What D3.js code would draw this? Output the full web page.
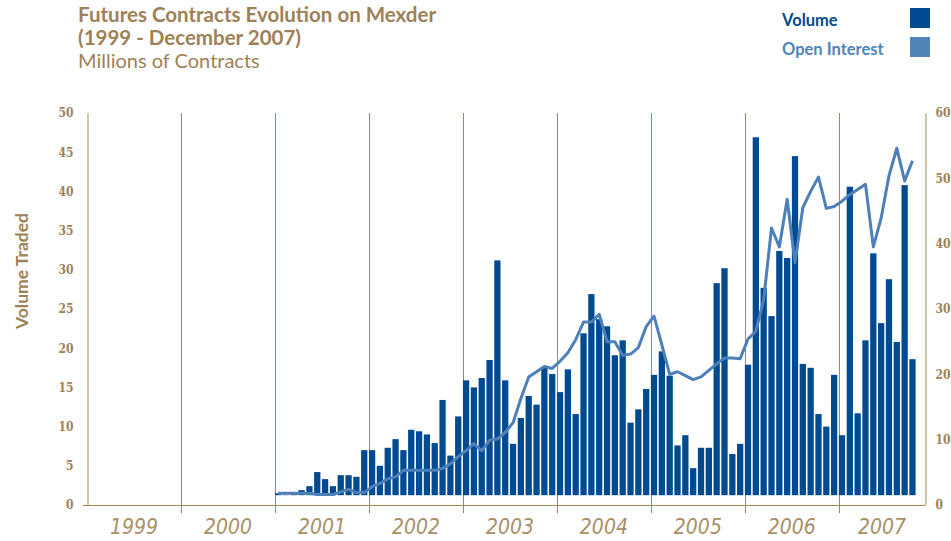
<!DOCTYPE html>
<html>
<head>
<meta charset="utf-8">
<script src="https://cdn.jsdelivr.net/npm/d3@7"></script>
<style>
  body { margin: 0; background: #fff; }
  svg { display: block; }
</style>
</head>
<body>
<div id="chart"></div>
<script>
// Years on the x axis
const years = ['1999', '2000', '2001', '2002', '2003', '2004', '2005', '2006', '2007'];

// Monthly volume traded (millions), Jan 2001 onward
const volume = [
    1.5, 1.3, 1.4, 1.9, 2.4, 4.2, 3.3, 2.4, 3.8, 3.8, 3.6, 7.0,          // 2001
    7.0, 5.0, 7.3, 8.4, 7.0, 9.6, 9.4, 9.0, 7.9, 13.4, 6.3, 11.3,        // 2002
    15.9, 15.0, 16.2, 18.5, 31.2, 15.9, 7.8, 11.1, 13.9, 12.8, 17.5, 16.7, // 2003
    14.4, 17.3, 11.6, 21.9, 26.9, 23.7, 22.8, 19.1, 21.0, 10.5, 12.2, 14.8, // 2004
    16.6, 19.6, 16.5, 7.6, 8.9, 4.7, 7.3, 7.3, 28.3, 30.2, 6.5, 7.8,     // 2005
    17.9, 46.9, 27.7, 24.1, 32.4, 31.5, 44.5, 18.0, 17.5, 11.6, 10.0, 16.6, // 2006
    8.9, 40.6, 11.7, 21.0, 32.1, 23.2, 28.8, 20.8, 40.8, 18.6            // 2007
];

// Monthly open interest (millions), Jan 2001 onward
const openInterest = [
    1.8, 1.8, 1.8, 1.8, 1.8, 1.6, 1.6, 1.6, 2.0, 2.4, 1.9, 1.9,          // 2001
    2.8, 3.3, 4.0, 4.3, 5.3, 5.3, 5.3, 5.3, 5.3, 5.6, 6.3, 7.4,          // 2002
    8.3, 9.4, 8.3, 9.9, 10.1, 11.1, 12.6, 16.3, 19.6, 20.4, 21.2, 20.9,  // 2003
    22.0, 23.3, 25.3, 28.0, 28.0, 29.2, 25.0, 25.0, 22.9, 23.1, 24.1, 27.3, // 2004
    28.9, 24.5, 20.0, 20.4, 19.8, 19.2, 19.6, 20.6, 21.6, 22.5, 22.5, 22.4, // 2005
    25.4, 26.6, 31.4, 42.4, 39.5, 46.8, 37.1, 45.5, 48.0, 50.2, 45.4, 45.7, // 2006
    46.5, 47.5, 48.3, 49.1, 39.5, 43.9, 50.4, 54.6, 49.6, 52.7           // 2007
];

const firstMonth = 24; // data starts Jan 2001 (months counted from Jan 1999)
const leftTicks = [0, 5, 10, 15, 20, 25, 30, 35, 40, 45, 50];
const rightTicks = [0, 10, 20, 30, 40, 50, 60];

const gold = '#9d8157';
const gridColor = '#a8864f';
const barColor = '#004a91';
const lineColor = '#4d80b9';

const width = 951, height = 541;
const margin = { top: 113, right: 26, bottom: 36, left: 87 };
const plotW = width - margin.left - margin.right;
const plotH = height - margin.top - margin.bottom;

const svg = d3.select('#chart')
    .append('svg')
        .attr('width', width)
        .attr('height', height);

// Titles
const title = svg.append('g').style('fill', gold).style('font-family', 'Lato, "Open Sans", sans-serif');
title.append('text').attr('x', 78).attr('y', 22)
    .style('font-size', '20.5px').style('font-weight', 'bold')
    .text('Futures Contracts Evolution on Mexder');
title.append('text').attr('x', 78).attr('y', 45)
    .style('font-size', '20.5px').style('font-weight', 'bold')
    .text('(1999 - December 2007)');
title.append('text').attr('x', 78).attr('y', 68)
    .style('font-size', '20px')
    .text('Millions of Contracts');

// Legend
const legend = [
    { label: 'Volume', color: barColor, y: 8 },
    { label: 'Open Interest', color: '#5184b8', y: 37 }
];
const lg = svg.append('g').selectAll('g').data(legend).enter().append('g');
lg.append('text')
    .attr('x', 782).attr('y', d => d.y + 18)
    .style('font-family', 'Lato, sans-serif')
    .style('font-size', '16.5px').style('font-weight', 'bold')
    .style('fill', d => d.color)
    .text(d => d.label);
lg.append('rect')
    .attr('x', 910).attr('y', d => d.y)
    .attr('width', 20).attr('height', 20)
    .attr('fill', d => d.color);

const g = svg.append('g').attr('transform', `translate(${margin.left},${margin.top})`);

// Scales: month index from Jan 1999; plot ends part-way into 2007
const x = d3.scaleLinear().domain([0, 107]).range([0, plotW]);
const step = x(1) - x(0);
const yL = d3.scaleLinear().domain([0, 50]).range([plotH, 0]);
const yR = d3.scaleLinear().domain([0, 60]).range([plotH, 0]);

// Year divider lines
g.selectAll('.divider')
    .data(d3.range(1, years.length))
    .enter().append('line')
        .attr('x1', i => Math.round(x(i * 12)) + 0.5)
        .attr('x2', i => Math.round(x(i * 12)) + 0.5)
        .attr('y1', 0).attr('y2', plotH + 8)
        .attr('stroke', gridColor);

// Bars float slightly above the axis, as in the original
const barBase = 1.25;
g.selectAll('.bar')
    .data(volume)
    .enter().append('rect')
        .attr('class', 'bar')
        .attr('x', (d, i) => x(firstMonth + i))
        .attr('width', step * 0.8)
        .attr('y', d => yL(d))
        .attr('height', d => yL(barBase) - yL(d))
        .attr('fill', barColor);

// Open interest line
const line = d3.line()
    .x((d, i) => x(firstMonth + i) + step * 0.4)
    .y(d => yR(d));
g.append('path')
    .datum(openInterest)
    .attr('d', line)
    .attr('fill', 'none')
    .attr('stroke', lineColor)
    .attr('stroke-width', 3)
    .attr('stroke-linejoin', 'round');

// Axes
const tickFont = '"DejaVu Serif Condensed", "DejaVu Serif", serif';
const leftAxis = g.append('g')
    .attr('transform', 'translate(0.5,0)')
    .call(d3.axisLeft(yL).tickValues(leftTicks).tickSize(0).tickPadding(14));
const rightAxis = g.append('g')
    .attr('transform', `translate(${plotW + 0.5},0)`)
    .call(d3.axisRight(yR).tickValues(rightTicks).tickSize(0).tickPadding(10));
[leftAxis, rightAxis].forEach(a => {
    a.select('.domain').attr('stroke', gridColor);
    a.selectAll('text')
        .style('font-family', tickFont)
        .style('font-stretch', 'condensed')
        .style('font-size', '12px')
        .style('font-weight', 'bold')
        .style('fill', gold);
});

// Bottom axis line
g.append('line')
    .attr('x1', -4).attr('x2', plotW)
    .attr('y1', plotH + 0.5).attr('y2', plotH + 0.5)
    .attr('stroke', gridColor);

// Year labels centred in their (visible) span
g.selectAll('.year')
    .data(years)
    .enter().append('text')
        .attr('x', (d, i) => (x(i * 12) + Math.min(x(i * 12 + 12), plotW)) / 2)
        .attr('y', plotH + 29)
        .style('text-anchor', 'middle')
        .style('font-family', '"Liberation Sans Narrow", "DejaVu Sans Condensed", sans-serif')
        .style('font-style', 'italic')
        .style('font-size', '21px')
        .style('fill', '#a88f66')
        .text(d => d);

// Y axis title
svg.append('text')
    .attr('transform', 'translate(28,271) rotate(-90)')
    .style('text-anchor', 'middle')
    .style('font-family', 'Lato, sans-serif')
    .style('font-size', '17.5px')
    .style('font-weight', 'bold')
    .style('fill', gold)
    .text('Volume Traded');
</script>
</body>
</html>
